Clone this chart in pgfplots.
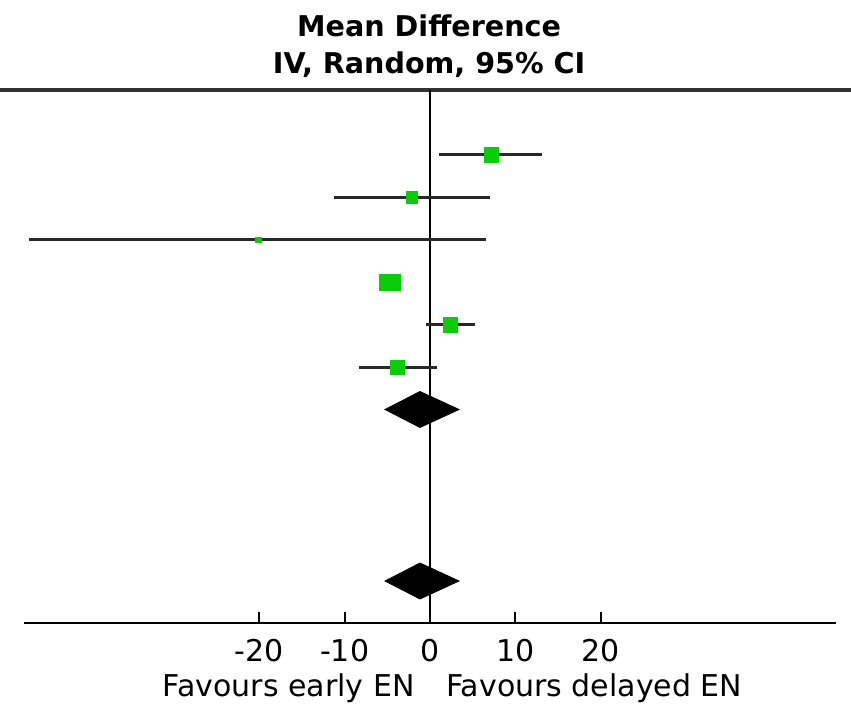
\documentclass[border=0pt]{standalone}
\usepackage{fontspec}
\setmainfont{DejaVu Sans}
\usepackage{pgfplots}
\pgfplotsset{compat=1.18}
\definecolor{mdgreen}{RGB}{10,205,10}
\definecolor{cigray}{RGB}{40,40,40}
\begin{document}
\begin{tikzpicture}[x=1pt,y=1pt]
\useasboundingbox (0,0) rectangle (425.5,352.5);
\begin{axis}[
  at={(0pt,41pt)}, anchor=south west,
  scale only axis, width=425.5pt, height=266.5pt,
  xmin=-50.35, xmax=49.30, ymin=82, ymax=615,
  axis x line*=bottom, axis y line=none,
  axis line style={draw=none},
  xtick={-20,-10,0,10,20},
  tick align=inside, major tick length=5.5pt,
  x tick style={black, line width=1pt},
  xticklabel style={anchor=base, yshift=-19.5pt, font=\fontsize{15}{18}\selectfont},
  /pgf/number format/assume math mode=true,
  clip=false,
]
% frame lines
\addplot[black, line width=1.2pt] coordinates {(-47.5,82) (47.5,82)};
\addplot[black!80, line width=1.6pt] coordinates {(-50.35,615) (49.30,615)};
\addplot[black, line width=1pt] coordinates {(0,82) (0,615)};
% confidence intervals
\addplot[cigray, line width=1.5pt] coordinates {(1.09,550) (13.11,550)};
\addplot[cigray, line width=1.5pt] coordinates {(-11.24,507.5) (7.06,507.5)};
\addplot[cigray, line width=1.5pt] coordinates {(-46.92,465) (6.56,465)};
\addplot[cigray, line width=1.5pt] coordinates {(-5.4,422.5) (-3.9,422.5)};
\addplot[cigray, line width=1.5pt] coordinates {(-0.47,380) (5.27,380)};
\addplot[cigray, line width=1.5pt] coordinates {(-8.31,337.5) (0.78,337.5)};
% point estimates
\addplot[only marks, mark=square*, mark size=3.6pt, mdgreen] coordinates {(7.18,550)};
\addplot[only marks, mark=square*, mark size=2.9pt, mdgreen] coordinates {(-2.14,507.5)};
\addplot[only marks, mark=square*, mark size=1.4pt, mdgreen] coordinates {(-20.1,465)};
\addplot[only marks, mark=square*, mark size=4.1pt, mark options={xscale=1.25}, mdgreen] coordinates {(-4.68,422.5)};
\addplot[only marks, mark=square*, mark size=3.6pt, mdgreen] coordinates {(2.42,380)};
\addplot[only marks, mark=square*, mark size=3.4pt, mdgreen] coordinates {(-3.83,337.5)};
% pooled diamonds
\addplot[fill=black, draw=black] coordinates {(-5.27,295.5) (-1.17,313.5) (3.40,295.5) (-1.17,277.5)} -- cycle;
\addplot[fill=black, draw=black] coordinates {(-5.27,124) (-1.17,142) (3.40,124) (-1.17,106)} -- cycle;
% texts
\node[anchor=base, inner sep=0pt, font=\bfseries\fontsize{14.3}{17}\selectfont] at (axis cs:-0.1,668) {Mean Difference};
\node[anchor=base, inner sep=0pt, font=\bfseries\fontsize{14.3}{17}\selectfont] at (axis cs:-0.1,631) {IV, Random, 95\% CI};
\node[anchor=base east, inner sep=0pt, font=\fontsize{15}{18}\selectfont] at (axis cs:-1.75,8) {Favours early EN};
\node[anchor=base west, inner sep=0pt, font=\fontsize{15}{18}\selectfont] at (axis cs:1.87,8) {Favours delayed EN};
\end{axis}
\end{tikzpicture}
\end{document}
